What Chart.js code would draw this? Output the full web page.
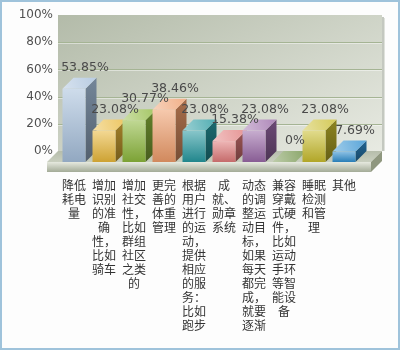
<!DOCTYPE html>
<html>
<head>
<meta charset="utf-8">
<script src="https://cdn.jsdelivr.net/npm/chart.js@4"></script>
<style>
	html, body { margin: 0; padding: 0; background: #fff; }
	canvas { display: block; }
</style>
</head>
<body>
<canvas id="chart" width="400" height="350"></canvas>
<script>
// categories, wrapped the way the original wraps them
const categories = [
	["降低", "耗电", "量"],
	["增加", "识别", "的准", "确", "性，", "比如", "骑车"],
	["增加", "社交", "性，", "比如", "群组", "社区", "之类", "的"],
	["更完", "善的", "体重", "管理"],
	["根据", "用户", "进行", "的运", "动，", "提供", "相应", "的服", "务：", "比如", "跑步"],
	["成", "就、", "勋章", "系统"],
	["动态", "的调", "整运", "动目", "标，", "如果", "每天", "都完", "成，", "就要", "逐渐"],
	["兼容", "穿戴", "式硬", "件，", "比如", "运动", "手环", "等智", "能设", "备"],
	["睡眠", "检测", "和管", "理"],
	["其他"]
];
const values = [53.85, 23.08, 30.77, 38.46, 23.08, 15.38, 23.08, 0, 23.08, 7.69];
const valueLabels = ["53.85%", "23.08%", "30.77%", "38.46%", "23.08%", "15.38%", "23.08%", "0%", "23.08%", "7.69%"];
const yTicks = [0, 20, 40, 60, 80, 100];

const barColors = ['#a6bfdb', '#e9b83a', '#8db83c', '#ee9c6a', '#26989f', '#e07a7a', '#9a6aa8', '#6c8e42', '#c9bd2e', '#2f8fd0'];

const DX = 11;   // depth, x
const DY = 11;   // depth, y

const mix = (hex, target, t) => {
	const n = parseInt(hex.slice(1), 16);
	const r = (n >> 16) & 255, g = (n >> 8) & 255, b = n & 255;
	const tr = target ? 255 : 0;
	const f = c => Math.round(c + (tr - c) * t);
	return `rgb(${f(r)},${f(g)},${f(b)})`;
};
const light = (c, t) => mix(c, true, t);
const dark = (c, t) => mix(c, false, t);

const poly = (ctx, pts, fill) => {
	ctx.beginPath();
	ctx.moveTo(pts[0][0], pts[0][1]);
	for (let i = 1; i < pts.length; i++) ctx.lineTo(pts[i][0], pts[i][1]);
	ctx.closePath();
	ctx.fillStyle = fill;
	ctx.fill();
};

const scenery = {
	id: 'scenery',
	beforeDraw: (chart) => {
		const ctx = chart.ctx;
		ctx.save();
		ctx.fillStyle = '#fdfdfd';
		ctx.fillRect(0, 0, chart.width, chart.height);
		ctx.restore();
	},
	beforeDatasetsDraw: (chart) => {
		const ctx = chart.ctx;
		const area = chart.chartArea;
		const y = chart.scales.y;
		const wl = area.left - 12, wr = area.right + 12;
		const top = y.getPixelForValue(100), bot = y.getPixelForValue(0);
		ctx.save();

		// wall shadow on the right
		ctx.fillStyle = '#c4c8c0';
		ctx.fillRect(wr, top + 2, 2, bot - top - 2);
		ctx.fillStyle = '#dfe2dc';
		ctx.fillRect(wr + 2, top + 3, 1, bot - top - 3);

		// back wall
		const g = ctx.createLinearGradient(wl, top, wl + 120, bot + 120);
		g.addColorStop(0, '#b3bba9');
		g.addColorStop(1, '#eceee7');
		ctx.fillStyle = g;
		ctx.fillRect(wl, top, wr - wl, bot - top);

		// grid lines
		yTicks.slice(1, -1).forEach(v => {
			const py = Math.round(y.getPixelForValue(v)) + 0.5;
			ctx.strokeStyle = '#a5b494';
			ctx.lineWidth = 1;
			ctx.beginPath();
			ctx.moveTo(wl, py);
			ctx.lineTo(wr, py);
			ctx.stroke();
			ctx.strokeStyle = 'rgba(255,255,255,0.45)';
			ctx.beginPath();
			ctx.moveTo(wl, py + 1);
			ctx.lineTo(wr, py + 1);
			ctx.stroke();
		});

		// floor
		const fl = wl - DX, fr = wr - DX, fy = bot + DY;
		const gt = ctx.createLinearGradient(0, bot, 0, fy);
		gt.addColorStop(0, '#b6bdab');
		gt.addColorStop(1, '#c9cfbf');
		poly(ctx, [[wl, bot], [wr, bot], [fr, fy], [fl, fy]], gt);
		const gf = ctx.createLinearGradient(0, fy, 0, fy + 10);
		gf.addColorStop(0, '#e6e9df');
		gf.addColorStop(1, '#a3ab97');
		ctx.fillStyle = gf;
		ctx.fillRect(fl, fy, fr - fl, 10);
		poly(ctx, [[fr, fy], [wr, bot], [wr, bot + 10], [fr, fy + 10]], '#8f977f');
		ctx.restore();
	},
	afterDatasetsDraw: (chart) => {
		const ctx = chart.ctx;
		const bars = chart.getDatasetMeta(0).data;
		ctx.save();
		bars.forEach((bar, i) => {
			const c = barColors[i];
			const w = bar.width;
			const bl = bar.x - w / 2, br = bar.x + w / 2;  // back face
			const fl = bl - DX, fr = br - DX;              // front face
			const ft = bar.y + DY, fb = bar.base + DY;

			// side
			const gs = ctx.createLinearGradient(0, bar.y, 0, fb);
			gs.addColorStop(0, dark(c, 0.3));
			gs.addColorStop(1, dark(c, 0.5));
			poly(ctx, [[fr, ft], [br, bar.y], [br, bar.base], [fr, fb]], gs);

			// front
			if (fb - ft > 0) {
				const gfr = ctx.createLinearGradient(0, ft, 0, fb);
				gfr.addColorStop(0, light(c, 0.45));
				gfr.addColorStop(1, dark(c, 0.12));
				ctx.fillStyle = gfr;
				ctx.fillRect(fl, ft, w, fb - ft);
			}

			// top
			const gtp = ctx.createLinearGradient(fl, ft, br, bar.y);
			gtp.addColorStop(0, light(c, 0.55));
			gtp.addColorStop(1, light(c, 0.2));
			poly(ctx, [[fl, ft], [fr, ft], [br, bar.y], [bl, bar.y]], gtp);
		});

		// value labels
		ctx.font = '12.5px "DejaVu Sans"';
		ctx.fillStyle = '#4a4a4a';
		ctx.textAlign = 'center';
		ctx.textBaseline = 'middle';
		bars.forEach((bar, i) => {
			ctx.fillText(valueLabels[i], bar.x, bar.y - 10);
		});
		ctx.restore();
	},
	afterDraw: (chart) => {
		const ctx = chart.ctx;
		ctx.save();
		ctx.strokeStyle = '#9fc3db';
		ctx.lineWidth = 2;
		ctx.strokeRect(1, 1, chart.width - 2, chart.height - 2);
		ctx.restore();
	}
};

window.onload = () => {
	const ctx = document.getElementById('chart').getContext('2d');
	new Chart(ctx, {
		type: 'bar',
		data: {
			labels: categories,
			datasets: [{
				data: values,
				backgroundColor: 'rgba(0,0,0,0)',
				borderWidth: 0,
				categoryPercentage: 1,
				barPercentage: 23 / 30
			}]
		},
		options: {
			responsive: false,
			animation: false,
			layout: { padding: { top: 15, right: 30, bottom: 0, left: 0 } },
			plugins: {
				legend: { display: false },
				tooltip: { enabled: false }
			},
			scales: {
				x: {
					grid: { display: false, drawTicks: false },
					border: { display: false },
					afterFit: (scale) => { scale.height = 199; },
					ticks: {
						autoSkip: false,
						maxRotation: 0,
						minRotation: 0,
						padding: 27,
						labelOffset: -11,
						color: '#333',
						font: { family: '"Noto Sans CJK SC"', size: 12, lineHeight: '14px' }
					}
				},
				y: {
					min: 0,
					max: 100,
					grid: { display: false, drawTicks: false },
					border: { display: false },
					afterFit: (scale) => {
						scale.width = 70;
						// the tick padding would otherwise push the plot down
						scale.paddingTop = 0;
						scale.paddingBottom = 0;
					},
					afterBuildTicks: (scale) => {
						scale.ticks = yTicks.map(v => ({ value: v }));
					},
					ticks: {
						padding: 17,
						color: '#505050',
						font: { family: '"DejaVu Sans"', size: 12 },
						callback: v => v + '%'
					}
				}
			}
		},
		plugins: [scenery]
	});
};
</script>
</body>
</html>
